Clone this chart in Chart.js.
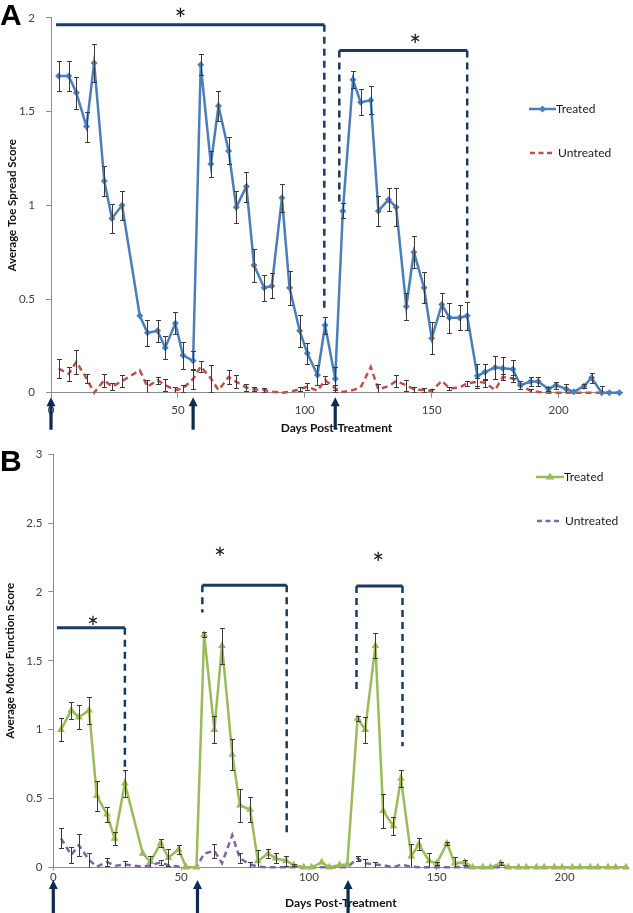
<!DOCTYPE html>
<html><head><meta charset="utf-8">
<script src="https://cdn.jsdelivr.net/npm/chart.js@4.4.0/dist/chart.umd.min.js"></script>
<style>
html,body{margin:0;padding:0;background:#fff;width:633px;height:913px;overflow:hidden;font-family:Lato,sans-serif;}
#wrapA{position:absolute;left:0;top:0;width:633px;height:436px;}
#wrapB{position:absolute;left:0;top:436px;width:633px;height:477px;}
canvas{display:block}
.letter{position:absolute;font-family:"Liberation Sans",Arial,sans-serif;font-weight:bold;font-size:30px;line-height:30px;color:#000;}
.leg{position:absolute;font-size:12px;color:#1a1a1a;line-height:14px;white-space:nowrap;height:14px;}
.leg svg{vertical-align:top}
</style></head>
<body>
<div id="wrapA"><canvas id="chartA" width="633" height="436"></canvas></div>
<div id="wrapB"><canvas id="chartB" width="633" height="477"></canvas></div>
<div class="letter" style="left:0;top:0">A</div>
<div class="letter" style="left:0;top:446px">B</div>
<div class="leg" style="left:529px;top:102px"><svg width="27" height="14"><line x1="0" y1="7" x2="27" y2="7" stroke="#4A7EBB" stroke-width="2.5"/><polygon points="13.5,3.5 17,7 13.5,10.5 10,7" fill="#4A7EBB"/></svg>Treated</div>
<div class="leg" style="left:529px;top:146px"><svg width="29" height="14"><line x1="1" y1="7" x2="25" y2="7" stroke="#C0504D" stroke-width="2.5" stroke-dasharray="5,3.5"/></svg>Untreated</div>
<div class="leg" style="left:536px;top:470px"><svg width="28" height="14"><line x1="0" y1="7" x2="28" y2="7" stroke="#9BBB59" stroke-width="2.5"/><polygon points="14,2.5 18.5,9.5 9.5,9.5" fill="#9BBB59"/></svg>Treated</div>
<div class="leg" style="left:536px;top:514px"><svg width="29" height="14"><line x1="1" y1="7" x2="25" y2="7" stroke="#8064A2" stroke-width="2.5" stroke-dasharray="5,3.5"/></svg>Untreated</div>
<script>
// ---------- data ----------
const days = [3,7,10,14,17,21,24,28,35,38,42,45,49,52,56,
  59,63,66,70,73,77,80,84,87,91,94,98,101,105,108,112,
  115,119,122,126,129,133,136,140,143,147,150,154,157,161,164,168,171,175,178,182,185,189,192,196,199,203,206,210,213,217,220,224];

const toeTreated = [1.69,1.69,1.60,1.42,1.76,1.13,0.93,1.00,0.41,0.32,0.33,0.24,0.37,0.20,0.17,
  1.75,1.22,1.53,1.29,0.99,1.10,0.68,0.56,0.57,1.04,0.56,0.33,0.21,0.095,0.36,0.075,
  0.97,1.67,1.55,1.56,0.97,1.03,0.99,0.46,0.75,0.56,0.29,0.47,0.40,0.40,0.41,0.09,0.11,0.135,0.13,0.125,0.04,0.06,0.06,0.02,0.04,0.02,0.005,0.035,0.08,0,0,0];
const toeTreatedErr = [0.08,0.08,0.085,0.08,0.10,0.08,0.077,0.077,0,0.07,0.058,0.06,0.058,0.072,0.05,
  0.056,0.07,0.082,0.072,0.084,0.08,0.088,0.07,0.067,0.074,0.09,0.084,0.056,0.053,0.046,0.063,
  0.04,0.044,0.068,0.075,0.079,0.06,0.1,0.072,0.084,0.082,0.086,0.06,0.079,0.068,0.075,0.065,0.042,0.06,0.06,0.049,0.02,0.023,0.026,0.01,0.018,0.028,0,0.01,0.026,0.037,0,0];
const toeUntreated = [0.128,0.10,0.165,0.076,0,0.067,0.032,0.062,0.12,0.032,0.067,0.04,0.014,0.023,0.074,
  0.14,0.076,0.014,0.084,0.058,0.028,0.018,0.014,0.005,0,0.005,0.018,0.032,0.01,0.067,0.023,
  0.004,0.014,0.028,0.137,0.018,0.035,0.062,0.04,0.018,0.014,0.01,0.063,0.023,0.028,0.05,0.058,0.053,0.014,0.084,0.076,0.04,0.01,0.004,0,0,0,0,0,0,0,0,0];
const toeUntreatedErr = [0.05,0.035,0.065,0.026,0,0.035,0.018,0.032,0,0.035,0.018,0.032,0.018,0.02,0.055,
  0.03,0.074,0,0.035,0.035,0.02,0.01,0.01,0,0,0,0.01,0.02,0,0.02,0.02,
  0,0,0,0,0.03,0,0.03,0.03,0.015,0.01,0.01,0,0.01,0,0.015,0.02,0.02,0,0.015,0.02,0,0.01,0,0,0,0,0,0,0,0,0,0];

const motorTreated = [1.00,1.14,1.09,1.14,0.52,0.385,0.21,0.61,0.10,0.04,0.175,0.07,0.13,0,0,
  1.69,1.00,1.61,0.82,0.45,0.42,0.046,0.10,0.065,0.048,0.017,0,0,0.036,0,0.017,
  0.02,1.08,1.00,1.61,0.41,0.30,0.645,0.08,0.167,0.046,0.029,0.174,0.029,0.036,0,0,0,0.029,0,0,0,0,0,0,0,0,0,0,0,0,0,0];
const motorTreatedErr = [0.085,0.06,0.087,0.10,0.11,0.056,0.05,0.10,0,0.04,0.03,0.06,0.03,0,0,
  0.02,0.1,0.13,0.11,0.12,0.09,0.08,0.03,0.036,0.036,0.01,0,0,0,0,0,
  0,0.017,0.094,0.09,0.126,0.068,0.065,0.09,0.044,0.056,0.01,0.012,0.048,0.017,0,0,0,0.01,0,0,0,0,0,0,0,0,0,0,0,0,0,0];
const motorUntreated = [0.21,0.09,0.16,0.053,0.005,0.039,0.01,0.02,0.005,0.015,0.036,0.015,0.005,0,0,
  0.10,0.12,0.03,0.234,0.065,0.02,0.005,0,0,0,0,0,0,0,0,0,
  0,0.065,0.03,0.02,0.015,0,0.02,0.005,0,0,0,0,0,0,0,0,0,0,0,0,0,0,0,0,0,0,0,0,0,0,0,0];
const motorUntreatedErr = [0.073,0.06,0.08,0.05,0,0.03,0,0.025,0,0,0.02,0,0,0,0,
  0,0.05,0,0,0.036,0.02,0,0,0,0,0,0,0,0,0,0,
  0,0.02,0.03,0.02,0,0,0,0,0,0,0,0,0,0,0,0,0,0,0,0,0,0,0,0,0,0,0,0,0,0,0,0];

const xTickLabels = [0,50,100,150,200];
const yTicksA = [0,0.5,1,1.5,2];
const yTicksB = [0,0.5,1,1.5,2,2.5,3];

// significance annotations (data units)
const bracketsA = [{x1:2,x2:107.7,y:1.964,leftTo:null,rightTo:0.43},{x1:113.6,x2:164,y:1.826,leftTo:1.01,rightTo:0.49}];
const starsA = [{x:51,y:2.03},{x:143.5,y:1.893}];
const arrowsA = [0,56,112];
const bracketsB = [{x1:1.4,x2:28,y:1.74,leftTo:null,rightTo:0.69},{x1:58.3,x2:91.3,y:2.048,leftTo:1.85,rightTo:0.22},{x1:118.6,x2:136.6,y:2.043,leftTo:1.27,rightTo:0.88}];
const starsB = [{x:15.5,y:1.796},{x:65.2,y:2.297},{x:127.1,y:2.26}];
const arrowsB = [0,56.4,115.3];

// ---------- helpers ----------
const pts = vals => days.map((d,i)=>({x:d,y:vals[i]}));

const errorBarPlugin = {
  id:'errorBars',
  afterDatasetsDraw(chart){
    const {ctx, chartArea:ca, scales:{x,y}} = chart;
    ctx.save();
    ctx.beginPath(); ctx.rect(ca.left-5, ca.top-30, ca.right-ca.left+10, ca.bottom-ca.top+30); ctx.clip();
    ctx.strokeStyle = '#3a3a3a'; ctx.lineWidth = 1;
    chart.data.datasets.forEach(ds=>{
      if(!ds.errors) return;
      ds.data.forEach((p,j)=>{
        const e = ds.errors[j]; if(!e) return;
        const px = Math.round(x.getPixelForValue(p.x))+0.5;
        const yt = Math.round(y.getPixelForValue(p.y+e))+0.5, yb = Math.round(y.getPixelForValue(p.y-e))+0.5;
        ctx.beginPath();
        ctx.moveTo(px,yt); ctx.lineTo(px,yb);
        ctx.moveTo(px-2.5,yt); ctx.lineTo(px+2.5,yt);
        ctx.moveTo(px-2.5,yb); ctx.lineTo(px+2.5,yb);
        ctx.stroke();
      });
    });
    ctx.restore();
  }
};

function sigPlugin(brackets, stars, arrows, arrowGap, arrowEnd){
  return {
    id:'sig',
    afterDraw(chart){
      const {ctx, chartArea:ca, scales:{x,y}} = chart;
      ctx.save();
      ctx.strokeStyle = '#1B3A63';
      brackets.forEach(b=>{
        const x1 = x.getPixelForValue(b.x1), x2 = x.getPixelForValue(b.x2), yy = y.getPixelForValue(b.y);
        ctx.setLineDash([]); ctx.lineWidth = 3;
        ctx.beginPath(); ctx.moveTo(x1,yy); ctx.lineTo(x2,yy); ctx.stroke();
        ctx.setLineDash([7,5]); ctx.lineWidth = 2.5;
        if(b.leftTo!==null){ ctx.beginPath(); ctx.moveTo(x1,yy); ctx.lineTo(x1,y.getPixelForValue(b.leftTo)); ctx.stroke(); }
        if(b.rightTo!==null){ ctx.beginPath(); ctx.moveTo(x2,yy); ctx.lineTo(x2,y.getPixelForValue(b.rightTo)); ctx.stroke(); }
      });
      ctx.setLineDash([]);
      ctx.fillStyle = '#111';
      ctx.font = '28px Lato';
      ctx.textAlign = 'center'; ctx.textBaseline = 'alphabetic';
      stars.forEach(s=>{
        const m = ctx.measureText('*');
        const cx = x.getPixelForValue(s.x), cy = y.getPixelForValue(s.y);
        const base = cy - (m.actualBoundingBoxDescent - m.actualBoundingBoxAscent)/2;
        ctx.fillText('*', cx, base);
      });
      ctx.fillStyle = '#0D2A52';
      arrows.forEach(d=>{
        const cx = x.getPixelForValue(d);
        const top = ca.bottom + arrowGap, bot = ca.bottom + arrowEnd;
        ctx.beginPath(); ctx.moveTo(cx, top); ctx.lineTo(cx+4.5, top+9); ctx.lineTo(cx-4.5, top+9); ctx.closePath(); ctx.fill();
        ctx.fillRect(cx-1.6, top+8, 3.2, bot-top-8);
      });
      ctx.restore();
    }
  };
}

function makeChart(id, p){
  return new Chart(document.getElementById(id), {
    type:'line',
    data:{datasets:[
      {label:'Treated', data:pts(p.treated), errors:p.treatedErr, borderColor:p.tColor, backgroundColor:p.tColor,
       borderWidth:2.5, pointStyle:p.pStyle, pointRadius:p.pRadius, pointBackgroundColor:p.tColor, pointBorderColor:p.tColor,
       pointBorderWidth:0, tension:0, clip:false, order:1},
      {label:'Untreated', data:pts(p.untreated), errors:p.untreatedErr, borderColor:p.uColor, backgroundColor:p.uColor,
       borderWidth:2.5, borderDash:[6,4], pointRadius:0, tension:0, clip:false, order:2}
    ]},
    options:{
      responsive:false, animation:false, devicePixelRatio:1,
      layout:{padding:p.pad},
      plugins:{legend:{display:false}, tooltip:{enabled:false}, title:{display:false}},
      scales:{
        x:{type:'linear', min:0, max:225,
           afterBuildTicks:s=>{ s.ticks = xTickLabels.map(v=>({value:v})); },
           afterFit:s=>{ s.height = p.xH; },
           grid:{drawOnChartArea:false, drawTicks:true, tickLength:p.xTickLen, color:'#8c8c8c'},
           border:{display:true, color:'#8c8c8c', width:1},
           ticks:{font:{family:'Lato', size:11.5}, color:'#404040', padding:p.xTickPad, maxRotation:0, autoSkip:false, callback:v=>String(v)},
           title:{display:true, text:'Days Post-Treatment', font:{family:'Lato', size:12, weight:'bold'}, color:'#111', padding:{top:0,bottom:p.xTitlePad}}
        },
        y:{min:0, max:p.yMax,
           afterBuildTicks:s=>{ s.ticks = p.yTicks.map(v=>({value:v})); },
           afterFit:s=>{ s.width = p.yW; },
           grid:{drawOnChartArea:false, drawTicks:true, tickLength:5, color:'#8c8c8c'},
           border:{display:true, color:'#8c8c8c', width:1},
           ticks:{font:{family:'Lato', size:11.5}, color:'#404040', padding:p.yTickPad, callback:v=>String(v)},
           title:{display:true, text:p.yTitle, font:{family:'Lato', size:11.5, weight:'bold'}, color:'#111', padding:{top:p.yTitlePad,bottom:0}}
        }
      }
    },
    plugins:[errorBarPlugin, sigPlugin(p.brackets, p.stars, p.arrows, p.arrowGap, p.arrowEnd)]
  });
}

makeChart('chartA', {
  treated:toeTreated, treatedErr:toeTreatedErr, untreated:toeUntreated, untreatedErr:toeUntreatedErr,
  tColor:'#4A7EBB', uColor:'#C0504D', pStyle:'rectRot', pRadius:3.5,
  pad:{left:0,right:11,top:13,bottom:0}, xH:43.3, yW:51, xTickLen:5, xTickPad:6, xTitlePad:1,
  yMax:2, yTicks:yTicksA, yTickPad:11, yTitle:'Average Toe Spread Score', yTitlePad:5,
  brackets:bracketsA, stars:starsA, arrows:arrowsA, arrowGap:4.5, arrowEnd:37
});

makeChart('chartB', {
  treated:motorTreated, treatedErr:motorTreatedErr, untreated:motorUntreated, untreatedErr:motorUntreatedErr,
  tColor:'#9BBB59', uColor:'#8064A2', pStyle:'triangle', pRadius:4.5,
  pad:{left:0,right:4.4,top:18.3,bottom:0}, xH:45.7, yW:53.3, xTickLen:3, xTickPad:0, xTitlePad:3,
  yMax:3, yTicks:yTicksB, yTickPad:6, yTitle:'Average Motor Function Score', yTitlePad:3.4,
  brackets:bracketsB, stars:starsB, arrows:arrowsB, arrowGap:12.7, arrowEnd:50
});
</script>
</body></html>
